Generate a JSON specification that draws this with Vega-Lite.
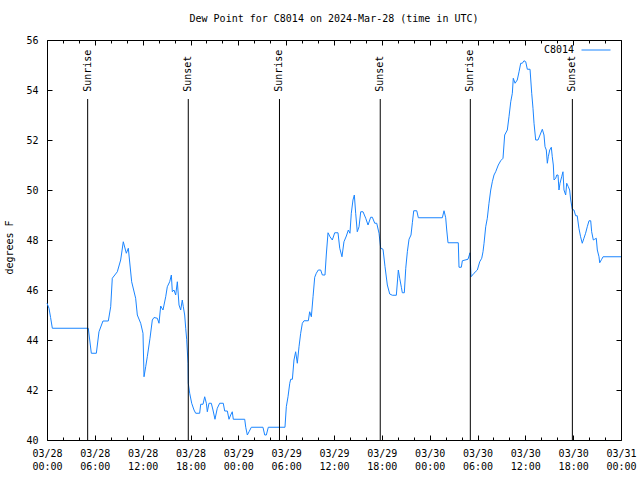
{
  "$schema": "https://vega.github.io/schema/vega-lite/v6.json",
  "width": 574,
  "height": 400,
  "autosize": {"type": "none"},
  "padding": {"left": 47, "top": 40, "right": 19, "bottom": 40},
  "background": "white",
  "title": {"text": "Dew Point for C8014 on 2024-Mar-28 (time in UTC)", "font": "DejaVu Sans Mono", "fontSize": 10, "fontWeight": "normal", "color": "black", "offset": 11},
  "config": {
    "font": "DejaVu Sans Mono",
    "view": {"stroke": "black", "strokeWidth": 1},
    "axis": {"grid": false, "domain": false, "labelFont": "DejaVu Sans Mono", "labelFontSize": 10, "labelColor": "black", "tickColor": "black", "titleFont": "DejaVu Sans Mono", "titleFontSize": 10, "titleFontWeight": "normal", "titleColor": "black", "labelFlush": false, "labelOverlap": false, "labelBound": false}
  },
  "datasets": {
    "obs": [
      {"h": 0, "v": 45.47}, {"h": 0.25, "v": 45.27}, {"h": 0.45, "v": 44.9}, {"h": 0.67, "v": 44.47}, {"h": 5.18, "v": 44.47},
      {"h": 5.56, "v": 43.47}, {"h": 6.19, "v": 43.47}, {"h": 6.52, "v": 44.33}, {"h": 7.02, "v": 44.76}, {"h": 7.69, "v": 44.76},
      {"h": 7.99, "v": 45.33}, {"h": 8.19, "v": 46.47}, {"h": 8.82, "v": 46.73}, {"h": 9.24, "v": 47.2}, {"h": 9.57, "v": 47.93},
      {"h": 9.95, "v": 47.47}, {"h": 10.2, "v": 47.67}, {"h": 10.62, "v": 46.33}, {"h": 11.12, "v": 45.67}, {"h": 11.33, "v": 45.0},
      {"h": 11.75, "v": 44.67}, {"h": 12.04, "v": 44.27}, {"h": 12.17, "v": 42.53}, {"h": 12.38, "v": 42.93}, {"h": 12.58, "v": 43.33},
      {"h": 12.92, "v": 44.07}, {"h": 13.21, "v": 44.8}, {"h": 13.42, "v": 44.9}, {"h": 13.84, "v": 44.87}, {"h": 14.05, "v": 44.67},
      {"h": 14.26, "v": 45.36}, {"h": 14.55, "v": 45.2}, {"h": 14.89, "v": 45.73}, {"h": 15.09, "v": 46.13}, {"h": 15.39, "v": 46.33},
      {"h": 15.6, "v": 46.6}, {"h": 15.72, "v": 45.93}, {"h": 15.93, "v": 46.0}, {"h": 16.14, "v": 45.8}, {"h": 16.35, "v": 46.33},
      {"h": 16.56, "v": 45.4}, {"h": 16.77, "v": 45.2}, {"h": 16.97, "v": 45.6}, {"h": 17.1, "v": 45.33}, {"h": 17.27, "v": 45.0},
      {"h": 17.4, "v": 44.47}, {"h": 17.52, "v": 44.03}, {"h": 17.69, "v": 43.07}, {"h": 17.72, "v": 42.27}, {"h": 17.9, "v": 41.87},
      {"h": 18.15, "v": 41.47}, {"h": 18.44, "v": 41.2}, {"h": 18.65, "v": 41.07}, {"h": 19.15, "v": 41.07}, {"h": 19.28, "v": 41.43},
      {"h": 19.57, "v": 41.43}, {"h": 19.78, "v": 41.73}, {"h": 19.99, "v": 41.47}, {"h": 20.11, "v": 41.13}, {"h": 20.32, "v": 41.47},
      {"h": 20.61, "v": 41.47}, {"h": 20.82, "v": 41.2}, {"h": 21.07, "v": 40.83}, {"h": 21.36, "v": 41.27}, {"h": 21.66, "v": 41.47},
      {"h": 22.11, "v": 41.47}, {"h": 22.29, "v": 41.16}, {"h": 22.62, "v": 41.16}, {"h": 22.83, "v": 40.83}, {"h": 23.04, "v": 41.0},
      {"h": 23.24, "v": 41.13}, {"h": 23.37, "v": 40.83}, {"h": 24.8, "v": 40.83}, {"h": 24.93, "v": 40.51}, {"h": 25.13, "v": 40.2},
      {"h": 25.34, "v": 40.33}, {"h": 25.63, "v": 40.51}, {"h": 27.09, "v": 40.51}, {"h": 27.31, "v": 40.2}, {"h": 27.51, "v": 40.2},
      {"h": 27.76, "v": 40.51}, {"h": 29.85, "v": 40.51}, {"h": 30.02, "v": 41.33}, {"h": 30.23, "v": 41.73}, {"h": 30.45, "v": 42.27},
      {"h": 30.57, "v": 42.43}, {"h": 30.78, "v": 42.43}, {"h": 30.98, "v": 43.2}, {"h": 31.19, "v": 43.53}, {"h": 31.4, "v": 43.07},
      {"h": 31.61, "v": 43.73}, {"h": 31.82, "v": 44.27}, {"h": 32.03, "v": 44.67}, {"h": 32.24, "v": 44.77}, {"h": 32.78, "v": 44.77},
      {"h": 32.95, "v": 45.13}, {"h": 33.16, "v": 44.93}, {"h": 33.37, "v": 45.73}, {"h": 33.58, "v": 46.51}, {"h": 33.78, "v": 46.67},
      {"h": 34.03, "v": 46.8}, {"h": 34.33, "v": 46.8}, {"h": 34.54, "v": 46.6}, {"h": 34.87, "v": 46.6}, {"h": 35.04, "v": 47.44},
      {"h": 35.25, "v": 48.29}, {"h": 35.5, "v": 48.13}, {"h": 35.79, "v": 48.0}, {"h": 36.09, "v": 48.29}, {"h": 36.5, "v": 48.29},
      {"h": 36.72, "v": 47.67}, {"h": 37.0, "v": 47.33}, {"h": 37.25, "v": 47.93}, {"h": 37.55, "v": 48.16}, {"h": 37.8, "v": 48.4},
      {"h": 38.0, "v": 48.27}, {"h": 38.17, "v": 49.07}, {"h": 38.38, "v": 49.6}, {"h": 38.55, "v": 49.8}, {"h": 38.72, "v": 49.07},
      {"h": 38.92, "v": 48.33}, {"h": 39.14, "v": 48.53}, {"h": 39.35, "v": 49.13}, {"h": 39.64, "v": 49.13}, {"h": 39.98, "v": 48.87},
      {"h": 40.27, "v": 48.6}, {"h": 40.6, "v": 48.91}, {"h": 40.81, "v": 48.91}, {"h": 41.11, "v": 48.67}, {"h": 41.36, "v": 48.67},
      {"h": 41.65, "v": 48.27}, {"h": 41.86, "v": 47.67}, {"h": 42.15, "v": 47.63}, {"h": 42.4, "v": 46.93}, {"h": 42.69, "v": 46.2},
      {"h": 42.99, "v": 45.84}, {"h": 43.32, "v": 45.79}, {"h": 43.82, "v": 45.79}, {"h": 44.07, "v": 46.8}, {"h": 44.24, "v": 46.47},
      {"h": 44.45, "v": 46.11}, {"h": 44.57, "v": 45.89}, {"h": 44.82, "v": 45.89}, {"h": 45.0, "v": 46.87}, {"h": 45.2, "v": 47.53},
      {"h": 45.41, "v": 48.03}, {"h": 45.66, "v": 48.2}, {"h": 45.83, "v": 48.69}, {"h": 46.0, "v": 49.17}, {"h": 46.38, "v": 49.17},
      {"h": 46.58, "v": 48.89}, {"h": 49.59, "v": 48.89}, {"h": 49.8, "v": 49.17}, {"h": 50.01, "v": 48.89}, {"h": 50.14, "v": 48.4},
      {"h": 50.3, "v": 47.89}, {"h": 51.59, "v": 47.89}, {"h": 51.68, "v": 46.91}, {"h": 51.97, "v": 46.91}, {"h": 52.1, "v": 47.17},
      {"h": 52.81, "v": 47.23}, {"h": 53.06, "v": 47.49}, {"h": 53.19, "v": 46.53}, {"h": 53.56, "v": 46.67}, {"h": 53.98, "v": 46.8},
      {"h": 54.28, "v": 47.13}, {"h": 54.53, "v": 47.27}, {"h": 54.69, "v": 47.53}, {"h": 54.82, "v": 47.87}, {"h": 55.03, "v": 48.53},
      {"h": 55.23, "v": 48.87}, {"h": 55.44, "v": 49.47}, {"h": 55.66, "v": 50.0}, {"h": 55.86, "v": 50.33}, {"h": 56.07, "v": 50.6},
      {"h": 56.28, "v": 50.73}, {"h": 56.61, "v": 51.0}, {"h": 56.91, "v": 51.17}, {"h": 57.2, "v": 51.27}, {"h": 57.41, "v": 52.2},
      {"h": 57.74, "v": 52.4}, {"h": 57.95, "v": 52.93}, {"h": 58.17, "v": 53.53}, {"h": 58.37, "v": 53.87}, {"h": 58.49, "v": 54.47},
      {"h": 58.71, "v": 54.27}, {"h": 58.99, "v": 54.4}, {"h": 59.21, "v": 54.73}, {"h": 59.42, "v": 55.07}, {"h": 59.62, "v": 55.07},
      {"h": 59.83, "v": 55.17}, {"h": 60.05, "v": 55.13}, {"h": 60.25, "v": 54.83}, {"h": 60.59, "v": 54.83}, {"h": 60.8, "v": 53.87},
      {"h": 60.96, "v": 53.27}, {"h": 61.09, "v": 52.67}, {"h": 61.3, "v": 52.0}, {"h": 61.59, "v": 52.0}, {"h": 61.84, "v": 52.2},
      {"h": 62.13, "v": 52.43}, {"h": 62.34, "v": 52.2}, {"h": 62.47, "v": 51.73}, {"h": 62.63, "v": 51.6}, {"h": 62.76, "v": 51.07},
      {"h": 62.88, "v": 51.33}, {"h": 63.06, "v": 51.6}, {"h": 63.26, "v": 51.71}, {"h": 63.38, "v": 51.33}, {"h": 63.51, "v": 51.0},
      {"h": 63.6, "v": 50.4}, {"h": 63.81, "v": 50.47}, {"h": 63.94, "v": 50.6}, {"h": 64.1, "v": 50.6}, {"h": 64.22, "v": 50.0},
      {"h": 64.35, "v": 50.27}, {"h": 64.56, "v": 50.53}, {"h": 64.72, "v": 50.73}, {"h": 64.85, "v": 50.0}, {"h": 65.06, "v": 49.8},
      {"h": 65.19, "v": 50.27}, {"h": 65.39, "v": 50.13}, {"h": 65.56, "v": 50.0}, {"h": 65.69, "v": 49.6}, {"h": 65.89, "v": 49.23},
      {"h": 66.1, "v": 49.2}, {"h": 66.31, "v": 48.97}, {"h": 66.51, "v": 48.97}, {"h": 66.72, "v": 48.47}, {"h": 66.93, "v": 48.13},
      {"h": 67.14, "v": 47.87}, {"h": 67.35, "v": 48.07}, {"h": 67.56, "v": 48.27}, {"h": 67.77, "v": 48.53}, {"h": 67.99, "v": 48.77},
      {"h": 68.2, "v": 48.77}, {"h": 68.32, "v": 48.33}, {"h": 68.53, "v": 48.0}, {"h": 68.7, "v": 48.03}, {"h": 68.9, "v": 48.07},
      {"h": 69.03, "v": 47.6}, {"h": 69.24, "v": 47.33}, {"h": 69.33, "v": 47.09}, {"h": 69.58, "v": 47.23}, {"h": 69.75, "v": 47.33},
      {"h": 72, "v": 47.33}
    ],
    "sun": [
      {"h": 5.1, "event": "Sunrise"}, {"h": 17.72, "event": "Sunset"},
      {"h": 29.16, "event": "Sunrise"}, {"h": 41.8, "event": "Sunset"},
      {"h": 53.1, "event": "Sunrise"}, {"h": 65.9, "event": "Sunset"}
    ]
  },
  "resolve": {"axis": {"x": "independent", "y": "independent"}},
  "layer": [
    {
      "data": {"name": "obs"},
      "mark": {"type": "line", "strokeWidth": 1},
      "encoding": {
        "x": {"field": "h", "type": "quantitative",
          "scale": {"domain": [0, 72], "nice": false, "zero": false},
          "axis": {"orient": "bottom", "title": null,
            "values": [0, 2, 4, 6, 8, 10, 12, 14, 16, 18, 20, 22, 24, 26, 28, 30, 32, 34, 36, 38, 40, 42, 44, 46, 48, 50, 52, 54, 56, 58, 60, 62, 64, 66, 68, 70, 72],
            "tickSize": {"condition": {"test": "datum.value % 6 === 0", "value": -5}, "value": -3},
            "labelExpr": "datum.value % 6 === 0 ? ['03/' + (28 + floor(datum.value / 24)), (datum.value % 24 < 10 ? '0' : '') + (datum.value % 24) + ':00'] : ''",
            "labelBaseline": "top", "labelLineHeight": 13, "labelPadding": 13}},
        "y": {"field": "v", "type": "quantitative",
          "scale": {"domain": [40, 56], "nice": false, "zero": false},
          "axis": {"orient": "left", "title": "degrees F", "values": [40, 42, 44, 46, 48, 50, 52, 54, 56],
            "tickSize": -5, "labelPadding": 14, "titleAngle": 270, "titleX": -38, "titleY": 207, "titleAlign": "center", "titleBaseline": "middle"}},
        "color": {"datum": "C8014", "scale": {"range": ["#1a85ff"]},
          "legend": {"orient": "none", "legendX": 534, "legendY": -5, "title": null, "symbolType": "stroke", "symbolSize": 841, "symbolStrokeWidth": 1, "labelAlign": "right", "labelOffset": -37, "labelFont": "DejaVu Sans Mono", "labelFontSize": 10, "labelColor": "black", "padding": 0}}
      }
    },
    {
      "data": {"name": "sun"},
      "mark": {"type": "rule", "color": "black", "strokeWidth": 1},
      "encoding": {
        "x": {"field": "h", "type": "quantitative",
          "axis": {"orient": "top", "title": null, "labels": false,
            "values": [0, 2, 4, 6, 8, 10, 12, 14, 16, 18, 20, 22, 24, 26, 28, 30, 32, 34, 36, 38, 40, 42, 44, 46, 48, 50, 52, 54, 56, 58, 60, 62, 64, 66, 68, 70, 72],
            "tickSize": {"condition": {"test": "datum.value % 6 === 0", "value": -5}, "value": -3}}},
        "y": {"datum": 40, "type": "quantitative",
          "axis": {"orient": "right", "title": null, "labels": false, "values": [40, 42, 44, 46, 48, 50, 52, 54, 56], "tickSize": -5}},
        "y2": {"datum": 53.64}
      }
    },
    {
      "data": {"name": "sun"},
      "mark": {"type": "text", "angle": 270, "align": "left", "baseline": "middle", "font": "DejaVu Sans Mono", "fontSize": 10, "color": "black"},
      "encoding": {
        "x": {"field": "h", "type": "quantitative", "axis": null},
        "y": {"datum": 53.93, "type": "quantitative", "axis": null},
        "text": {"field": "event"}
      }
    }
  ]
}
